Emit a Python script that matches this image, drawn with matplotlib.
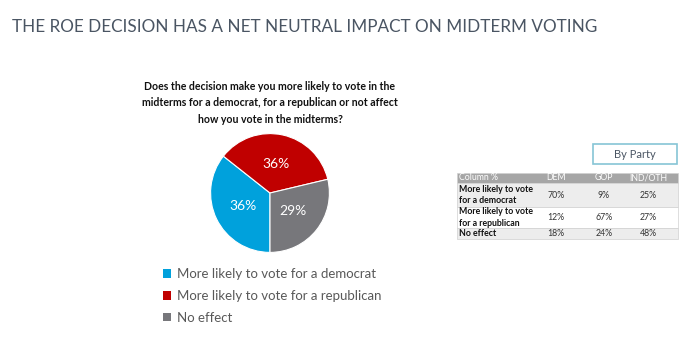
import matplotlib.pyplot as plt
from matplotlib.patches import Rectangle, Patch

plt.rcParams['font.family'] = ['Lato', 'DejaVu Sans']

# Pie data
labels = ['More likely to vote for a democrat',
          'More likely to vote for a republican',
          'No effect']
values = [36, 36, 29]
colors = ['#00a1dc', '#c00000', '#77777b']

# Table data
col_header = ['Column %', 'DEM', 'GOP', 'IND/OTH']
row_labels = ['More likely to vote\nfor a democrat',
              'More likely to vote\nfor a republican',
              'No effect']
dem = ['70%', '12%', '18%']
gop = ['9%', '67%', '24%']
ind = ['25%', '27%', '48%']

W, H = 700, 357
fig = plt.figure(figsize=(7, 3.57), dpi=100)

# overlay axes in pixel coords for text and table
ov = fig.add_axes([0, 0, 1, 1])
ov.set_xlim(0, W)
ov.set_ylim(H, 0)
ov.axis('off')

ov.text(12, 27, 'THE ROE DECISION HAS A NET NEUTRAL IMPACT ON MIDTERM VOTING',
        fontsize=12.35, color='#4a5563', va='center', ha='left')

question = ('Does the decision make you more likely to vote in the\n'
            'midterms for a democrat, for a republican or not affect\n'
            'how you vote in the midterms?')
ov.text(270, 103, question, fontsize=7.6, fontweight='bold', ha='center',
        va='center', linespacing=1.6, color='#111111')

# pie
cx, cy, r = 270, 193, 60
pax = fig.add_axes([(cx - r) / W, 1 - (cy + r) / H, 2 * r / W, 2 * r / H])
total = sum(values)
pax.pie(values, colors=colors, startangle=-90, counterclock=False,
        autopct=lambda p: f'{p * total / 100:.0f}%', pctdistance=0.5,
        textprops=dict(color='white', fontsize=10),
        wedgeprops=dict(edgecolor='white', linewidth=0.8))
pax.set_xlim(-1.01, 1.01)
pax.set_ylim(-1.01, 1.01)
pax.set_aspect('equal')

# legend
handles = [Patch(facecolor=c, edgecolor='none') for c in colors]
fig.legend(handles, labels, loc='upper left',
           bbox_to_anchor=(151 / W, 1 - 256 / H), frameon=False,
           fontsize=9.5, labelcolor='#595959', handlelength=0.65,
           handleheight=0.65, handletextpad=0.45, labelspacing=0.75)

# By Party box
ov.add_patch(Rectangle((593, 144), 84, 20, facecolor='white',
                       edgecolor='#86c5d6', linewidth=1.2))
ov.text(635, 154, 'By Party', fontsize=8, color='#4a5563',
        ha='center', va='center')

# table
x0, x1 = 457, 678
row_edges = [173, 183, 207, 228, 239]
fills = ['#a6a6a6', '#ededed', 'white', '#ededed']
for i in range(4):
    ov.add_patch(Rectangle((x0, row_edges[i]), x1 - x0,
                           row_edges[i + 1] - row_edges[i],
                           facecolor=fills[i], edgecolor='#d0d0d0',
                           linewidth=0.5))
col_x = [459, 556, 604, 648]
hy = (row_edges[0] + row_edges[1]) / 2
for j, h in enumerate(col_header):
    ov.text(col_x[j], hy, h, fontsize=6.3, color='white',
            ha='left' if j == 0 else 'center', va='center')
for i in range(3):
    ym = (row_edges[i + 1] + row_edges[i + 2]) / 2
    ov.text(col_x[0], ym, row_labels[i], fontsize=6.3, fontweight='bold',
            color='#111111', ha='left', va='center', linespacing=1.3)
    for j, col in enumerate([dem, gop, ind]):
        ov.text(col_x[j + 1], ym, col[i], fontsize=6.3, color='#333333',
                ha='center', va='center')

fig.savefig('out.png', dpi=100, facecolor='white')
